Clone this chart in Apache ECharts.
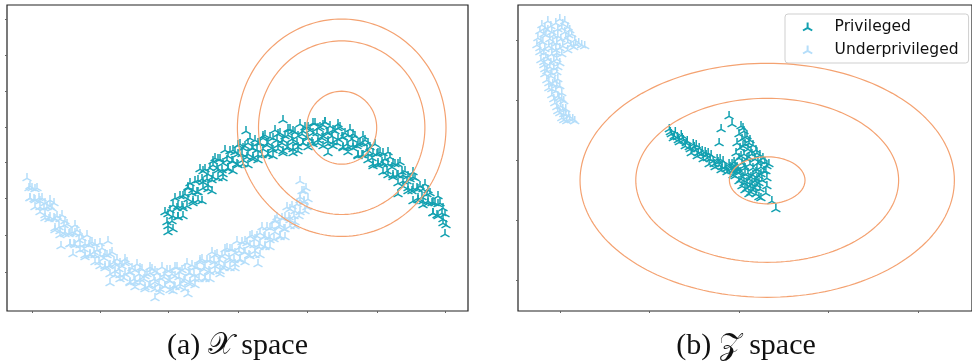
<!DOCTYPE html>
<html><head><meta charset="utf-8">
<script src="https://cdn.jsdelivr.net/npm/echarts@6/dist/echarts.min.js"></script>
<style>html,body{margin:0;padding:0;background:#fff}#c{width:972px;height:363px}</style>
</head><body><div id="c"></div>
<script>
// ---- data (panel coordinates) ----
const leftPrivileged = [
[165,211],[167,221],[168,231],[170,209],[172,220],[173,228],[175,197],[177,207],[178,216],[180,195],[182,205],[183,215],
[185,193],[187,205],[188,186],[190,182],[192,192],[193,202],[195,180],[197,191],[198,199],[200,168],[202,178],[203,187],
[205,168],[207,178],[208,188],[210,167],[212,179],[213,160],[215,157],[217,167],[218,177],[220,158],[222,169],[223,177],
[225,149],[227,159],[228,168],[230,150],[232,160],[233,170],[235,151],[237,163],[238,144],[240,143],[242,153],[243,163],
[245,145],[247,156],[248,164],[250,137],[252,147],[253,156],[255,139],[257,149],[258,159],[260,142],[262,154],[263,135],
[265,134],[267,144],[268,154],[270,136],[272,147],[273,155],[275,129],[277,139],[278,148],[280,132],[282,142],[283,152],
[285,135],[287,147],[288,128],[290,128],[292,138],[293,148],[295,131],[297,142],[298,150],[300,123],[302,133],[303,142],
[305,126],[307,136],[308,146],[310,129],[312,141],[313,122],[315,122],[317,132],[318,142],[320,126],[322,137],[323,145],
[325,121],[327,131],[328,140],[330,125],[332,135],[333,145],[335,130],[337,142],[338,123],[340,126],[342,136],[343,146],
[345,132],[347,143],[348,151],[350,128],[352,138],[353,147],[355,135],[357,145],[358,155],[360,142],[362,154],[363,135],
[365,139],[367,149],[368,159],[370,146],[372,157],[373,165],[375,143],[377,153],[378,162],[380,151],[382,161],[383,171],
[385,158],[387,170],[388,151],[390,156],[392,166],[393,176],[395,163],[397,174],[398,182],[400,161],[402,171],[403,180],
[405,170],[407,180],[408,190],[410,178],[412,190],[413,171],[415,177],[417,187],[418,197],[420,185],[422,196],[423,204],
[425,183],[427,193],[428,202],[430,192],[432,202],[433,212],[435,202],[437,214],[438,195],[440,202],[442,212],[443,222],
[445,213],[446,224],[445,233],[246,130],[283,119],[325,121],[212,190],[202,200],[398,193],[413,200],[328,152],[293,152],
[168,213],[168,225],[173,204],[173,215],[178,205],[178,216],[183,195],[183,207],[188,187],[188,198],[193,189],[193,200],
[198,179],[198,191],[203,170],[203,181],[208,173],[208,184],[213,164],[213,176],[218,158],[218,169],[223,162],[223,173],
[228,155],[228,167],[233,149],[233,160],[238,153],[238,164],[243,147],[243,159],[248,142],[248,153],[253,147],[253,158],
[258,142],[258,154],[263,137],[263,148],[268,142],[268,153],[273,137],[273,149],[278,133],[278,144],[283,139],[283,150],
[288,134],[288,146],[293,130],[293,141],[298,135],[298,146],[303,130],[303,142],[308,126],[308,137],[313,132],[313,143],
[318,127],[318,139],[323,124],[323,135],[328,132],[328,143],[333,129],[333,141],[338,127],[338,138],[343,136],[343,147],
[348,134],[348,146],[353,133],[353,144],[358,143],[358,154],[363,142],[363,154],[368,142],[368,153],[373,152],[373,163],
[378,152],[378,164],[383,152],[383,163],[388,163],[388,174],[393,162],[393,174],[398,163],[398,174],[403,174],[403,185],
[408,175],[408,187],[413,176],[413,187],[418,188],[418,199],[423,188],[423,200],[428,189],[428,200],[433,201],[433,212],
[438,203],[438,215],[443,207],[443,218]
];
const leftUnderprivileged = [
[27,177],[29,187],[30,197],[32,187],[34,198],[35,206],[37,187],[39,197],[40,206],[42,197],[44,207],[45,217],
[47,206],[49,218],[50,199],[52,207],[54,217],[55,227],[57,215],[59,226],[60,234],[62,214],[64,224],[65,233],
[67,223],[69,233],[70,243],[72,231],[74,243],[75,224],[77,229],[79,239],[80,249],[82,237],[84,248],[85,256],
[87,234],[89,244],[90,253],[92,241],[94,251],[95,261],[97,249],[99,261],[100,242],[102,247],[104,257],[105,267],
[107,254],[109,265],[110,273],[112,251],[114,261],[115,270],[117,258],[119,268],[120,278],[122,265],[124,277],[125,258],
[127,261],[129,271],[130,281],[132,267],[134,278],[135,286],[137,263],[139,273],[140,282],[142,268],[144,278],[145,288],
[147,273],[149,285],[150,266],[152,268],[154,278],[155,288],[157,272],[159,283],[160,291],[162,266],[164,276],[165,285],
[167,269],[169,279],[170,289],[172,273],[174,285],[175,266],[177,266],[179,276],[180,286],[182,269],[184,280],[185,288],
[187,262],[189,272],[190,281],[192,264],[194,274],[195,284],[197,266],[199,278],[200,259],[202,258],[204,268],[205,278],
[207,259],[209,270],[210,278],[212,251],[214,261],[215,270],[217,253],[219,263],[220,273],[222,255],[224,267],[225,248],
[227,247],[229,257],[230,267],[232,248],[234,259],[235,267],[237,240],[239,250],[240,259],[242,241],[244,251],[245,261],
[247,242],[249,254],[250,235],[252,234],[254,244],[255,254],[257,235],[259,246],[260,254],[262,226],[264,236],[265,245],
[267,226],[269,236],[270,246],[272,226],[274,238],[275,219],[277,216],[279,226],[280,236],[282,217],[284,228],[285,236],
[287,206],[289,216],[290,225],[292,205],[294,215],[295,225],[297,203],[299,215],[300,196],[302,190],[304,200],[305,210],
[306,187],[308,198],[307,206],[300,180],[155,297],[258,263],[73,253],[61,245],[108,240],[54,202],[188,293],[173,290],[110,282],
[30,185],[30,197],[35,188],[35,199],[40,200],[40,211],[45,202],[45,214],[50,205],[50,216],[55,218],[55,229],
[60,218],[60,230],[65,220],[65,231],[70,232],[70,243],[75,232],[75,244],[80,233],[80,244],[85,243],[85,254],
[90,242],[90,254],[95,243],[95,254],[100,254],[100,265],[105,253],[105,265],[110,253],[110,264],[115,263],[115,274],
[120,262],[120,274],[125,262],[125,273],[130,271],[130,282],[135,269],[135,281],[140,267],[140,278],[145,275],[145,286],
[150,272],[150,284],[155,270],[155,281],[160,277],[160,288],[165,273],[165,285],[170,269],[170,280],[175,275],[175,286],
[180,271],[180,283],[185,267],[185,278],[190,272],[190,283],[195,266],[195,278],[200,261],[200,272],[205,266],[205,277],
[210,259],[210,271],[215,254],[215,265],[220,259],[220,270],[225,253],[225,265],[230,248],[230,259],[235,252],[235,263],
[240,246],[240,258],[245,240],[245,251],[250,244],[250,255],[255,238],[255,250],[260,232],[260,243],[265,235],[265,246],
[270,227],[270,239],[275,220],[275,231],[280,224],[280,235],[285,216],[285,228],[290,208],[290,219],[295,210],[295,221],
[300,199],[300,211],[304,190],[304,201]
];
const rightPrivileged = [
[670,128],[672,133],[674,137],[676,131],[678,136],[680,141],[682,134],[684,139],[686,145],[688,140],[690,146],[692,152],
[694,143],[696,149],[698,155],[700,147],[702,153],[704,158],[706,151],[708,157],[710,163],[712,154],[714,160],[716,166],
[718,158],[720,164],[722,169],[724,160],[726,166],[728,171],[730,163],[732,168],[734,174],[736,165],[738,171],
[742,125],[745,130],[740,133],[748,135],[743,138],[751,139],[738,142],[746,143],[754,144],[741,147],[749,148],[757,149],
[737,152],[745,153],[753,153],[761,154],[740,157],[748,158],[756,158],[764,157],[735,161],[743,162],[751,163],[759,162],
[766,161],[738,166],[746,167],[754,167],[762,166],[733,170],[741,171],[749,172],[757,171],[765,170],[736,175],[744,176],
[752,176],[760,175],[740,180],[748,181],[756,180],[763,179],[743,185],[751,185],[758,184],[746,189],[754,189],[761,188],
[750,193],[757,193],[768,177],[768,185],[767,192],[773,200],[777,208],[762,197],[730,115],[733,123],[722,128],[720,142],
[671,131],[675,135],[679,139],[683,137],[687,142],[691,148],[695,146],[699,152],[703,150],[707,154],[711,158],[715,163],
[719,161],[723,166],[727,168],[731,166],[735,169],[739,168],[697,144],[709,152],[721,158],[733,163],
[744,127],[746,136],[750,142],[744,145],[752,150],[742,155],[758,152],[750,156],[762,160],[745,165],[758,168],[768,165],
[737,168],[746,173],[754,174],[762,173],[742,178],[750,178],[758,178],[745,182],[753,183],[760,182],[748,187],[756,187],
[752,191],[760,196],[767,170],[770,163]
];
const rightUnderprivileged = [
[560,18],[556,22],[563,23],[551,25],[568,26],[545,27],[558,28],[540,30],[552,31],[565,31],[572,33],[546,34],[558,35],
[538,37],[566,37],[550,38],[575,39],[543,41],[557,42],[579,42],[585,45],[537,44],[549,45],[563,45],[574,46],[545,48],
[556,49],[568,49],[540,51],[552,53],[562,53],[546,56],[557,58],[541,59],[551,62],[560,62],[544,64],[554,67],[547,70],
[557,71],[545,73],[551,75],[558,78],[547,79],[553,83],[560,85],[549,87],[556,90],[562,92],[552,94],[559,97],[564,100],
[555,102],[561,105],[566,108],[558,110],[564,113],[569,115],[562,117],[573,118],[567,120],
[548,20],[565,20],[542,24],[570,29],[548,29],[562,27],[544,33],[554,34],[569,34],[541,40],[561,38],[553,41],[568,41],
[576,43],[582,44],[540,47],[552,47],[560,47],[571,44],[544,52],[557,52],[548,58],[554,60],[544,61],[550,66],[558,66],
[545,68],[552,72],[555,80],[549,82],[557,84],[552,88],[558,95],[554,98],[562,98],[557,106],[563,108],[560,112],[566,113],
[570,118],[575,120],[564,119]
];
// contour levels: centre and (x-radius, y-radius) of each ring
const leftCentre = [341.7, 127.7];
const leftRadii = [[35, 36.5], [83.2, 86.8], [104.3, 108.7]];
const rightCentre = [768.3, 180.3];
const rightRadii = [[38, 23.5], [132, 82], [188, 117]];
// tick positions
const leftXTicks = [32, 100, 168, 238, 307, 377, 445];
const leftYTicks = [19, 55, 91, 127, 162, 198, 235, 272];
const rightXTicks = [560, 650, 740, 830, 920];
const rightYTicks = [40, 100, 160, 220, 280];
const legendNames = ['Privileged', 'Underprivileged'];
const captions = ['(a) 𝒳 space', '(b) 𝒵 space'];

// ---- styles ----
const TEAL = '#12a0b0', LIGHT = '#b5defa', ORANGE = '#f4a271';
const TRI = 'path://M5,0 L5,5 M5,5 L0.67,7.5 M5,5 L9.33,7.5';

function ring(c, r) {
  const pts = [];
  for (let i = 0; i <= 180; i++) {
    const t = i / 180 * 2 * Math.PI;
    pts.push([c[0] + r[0] * Math.cos(t), c[1] + r[1] * Math.sin(t)]);
  }
  return pts;
}
function scatter(name, data, color, gi) {
  return {type: 'scatter', name, data, xAxisIndex: gi, yAxisIndex: gi, symbol: TRI, symbolSize: 9,
    symbolKeepAspect: true, z: 2,
    itemStyle: {color: color, borderColor: color, borderWidth: 1.5, opacity: 1}};
}
function ringSeries(c, radii, gi) {
  return radii.map(r => ({type: 'line', data: ring(c, r), xAxisIndex: gi, yAxisIndex: gi, symbol: 'none',
    silent: true, z: 5, lineStyle: {color: ORANGE, width: 1.2}}));
}
function axis(gi, min, max, ticks, inverse) {
  return {type: 'value', gridIndex: gi, min, max, inverse: !!inverse, splitLine: {show: false},
    axisLine: {show: false}, axisLabel: {show: false},
    axisTick: {show: true, length: 2, customValues: ticks, lineStyle: {color: '#666', width: 1}}};
}
const chart = echarts.init(document.getElementById('c'), null, {renderer: 'canvas'});
chart.setOption({
  animation: false,
  backgroundColor: '#fff',
  grid: [
    {left: 7, top: 5, width: 461, height: 306, show: true, borderColor: '#222', borderWidth: 1.2, backgroundColor: 'transparent'},
    {left: 518, top: 5, width: 456, height: 306, show: true, borderColor: '#222', borderWidth: 1.2, backgroundColor: 'transparent'}
  ],
  xAxis: [axis(0, 7, 468, leftXTicks), axis(1, 518, 974, rightXTicks)],
  yAxis: [axis(0, 5, 311, leftYTicks, true), axis(1, 5, 311, rightYTicks, true)],
  legend: {
    data: legendNames, orient: 'vertical', left: 785, top: 14, itemWidth: 44, itemHeight: 8, itemGap: 6,
    padding: [4, 10, 5, 17], backgroundColor: 'rgba(255,255,255,0.85)', borderColor: '#cfcfcf', borderWidth: 1,
    borderRadius: 3, textStyle: {fontFamily: 'DejaVu Sans', fontSize: 15.5, color: '#111', lineHeight: 17}
  },
  graphic: [
    {type: 'text', x: 237.5, y: 346, style: {text: captions[0], font: '30px "Liberation Serif", "DejaVu Serif", serif', fill: '#111', textAlign: 'center', textVerticalAlign: 'middle'}},
    {type: 'text', x: 746, y: 346, style: {text: captions[1], font: '30px "Liberation Serif", "DejaVu Serif", serif', fill: '#111', textAlign: 'center', textVerticalAlign: 'middle'}}
  ],
  series: [
    scatter(legendNames[0], leftPrivileged, TEAL, 0),
    scatter(legendNames[1], leftUnderprivileged, LIGHT, 0),
    scatter(legendNames[0], rightPrivileged, TEAL, 1),
    scatter(legendNames[1], rightUnderprivileged, LIGHT, 1),
    ...ringSeries(leftCentre, leftRadii, 0),
    ...ringSeries(rightCentre, rightRadii, 1)
  ]
});
</script></body></html>
